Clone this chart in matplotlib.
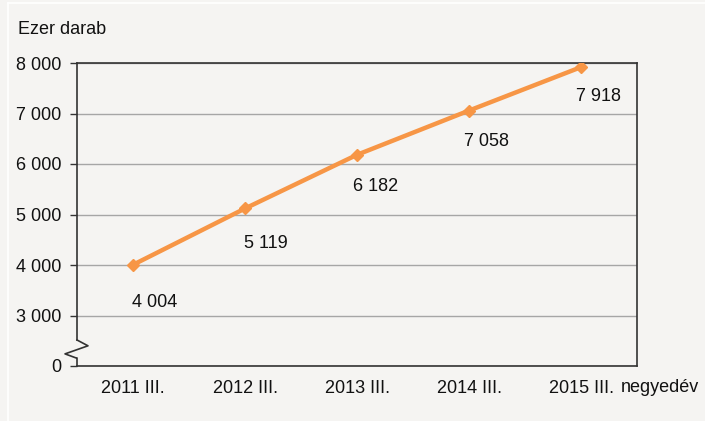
import matplotlib.pyplot as plt
from matplotlib.lines import Line2D
from matplotlib.ticker import FuncFormatter
import matplotlib.transforms as mtransforms

plt.rcParams['font.family'] = ['Liberation Sans', 'DejaVu Sans']

quarters = ["2011 III.", "2012 III.", "2013 III.", "2014 III.", "2015 III."]
values = [4004, 5119, 6182, 7058, 7918]
value_labels = ["4 004", "5 119", "6 182", "7 058", "7 918"]
yticks = [2000, 3000, 4000, 5000, 6000, 7000, 8000]

# label offsets from each point, pixels
label_offsets = [(22, -38), (21, -35), (19, -32), (17, -31), (17, -29)]

bg = "#f5f4f2"
fs = 13
fig = plt.figure(figsize=(7.05, 4.21), dpi=100, facecolor=bg)
ax = fig.add_axes([77 / 705, 1 - 366 / 421, 560 / 705, 303 / 421])
ax.set_facecolor(bg)

# thin white frame lines at the top and left edge
fig.add_artist(Line2D([7.5 / 705, 7.5 / 705], [0, 1 - 3 / 421], color="white", lw=1.2))
fig.add_artist(Line2D([7.5 / 705, 1], [1 - 3 / 421, 1 - 3 / 421], color="white", lw=1.2))

x = list(range(len(quarters)))
ax.plot(x, values, color="#f79646", lw=3.2, marker="D", markersize=6.5,
        solid_capstyle="butt", zorder=3)

for xi, v, lab, off in zip(x, values, value_labels, label_offsets):
    ax.annotate(lab, (xi, v), xytext=off, textcoords="offset pixels",
                ha="center", va="center", fontsize=fs, color="#111111")

ax.set_xlim(-0.5, len(quarters) - 0.5)
ax.set_ylim(2000, 8000)
ax.set_yticks(yticks)
ax.yaxis.set_major_formatter(FuncFormatter(
    lambda v, p: "0" if v <= 2000 else "{:,.0f}".format(v).replace(",", " ")))
ax.set_xticks(x)
ax.set_xticklabels(quarters)

ax.grid(axis="y", color="#a6a6a6", lw=1.0)
ax.set_axisbelow(True)
ax.tick_params(axis="y", length=5, width=1, color="#333333", pad=6,
               labelsize=fs, labelcolor="#111111")
ax.tick_params(axis="x", length=0, pad=10, labelsize=fs, labelcolor="#111111")

for s in ax.spines.values():
    s.set_color("#333333")
    s.set_linewidth(1.2)
ax.spines["left"].set_bounds(2515, 8000)

# axis break zigzag
tr = mtransforms.blended_transform_factory(ax.transAxes, ax.transData)
ax.plot([0, 0.0196, -0.0214, -0.0018, 0, 0],
        [2515, 2400, 2240, 2160, 2160, 2000],
        transform=tr, color="#333333", lw=1.2, clip_on=False)

fig.text(18 / 705, 1 - 30 / 421, "Ezer darab", fontsize=fs, va="center",
         ha="left", color="#111111")
fig.text(621 / 705, 1 - 387 / 421, "negyedév", fontsize=fs, va="center",
         ha="left", color="#111111")

fig.savefig("out.png", dpi=100, facecolor=bg)
